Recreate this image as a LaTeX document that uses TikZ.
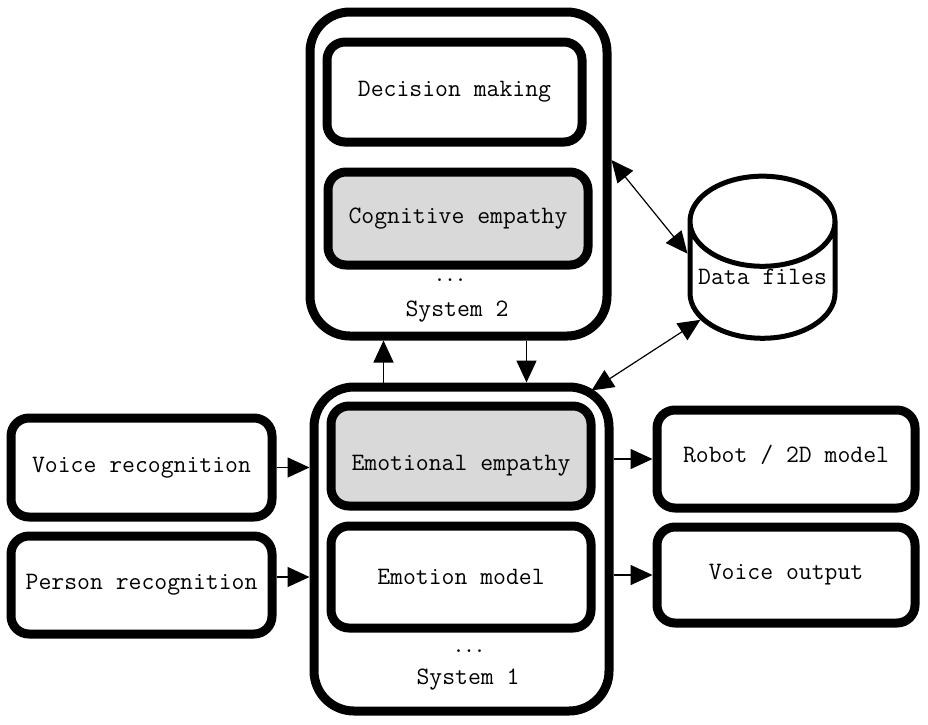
\documentclass[tikz,border=0pt]{standalone}
\usetikzlibrary{arrows.meta,shapes.geometric}
\begin{document}
\begin{tikzpicture}[x=1pt,y=1pt,
	box/.style={draw=black,line width=9pt,rounded corners=18pt,fill=white,inner sep=0pt,font=\ttfamily\fontsize{25}{30}\selectfont},
	shaded/.style={box,fill=black!15},
	sysbox/.style={draw=black,line width=9pt,rounded corners=40pt,inner sep=0pt},
	lbl/.style={inner sep=0pt,font=\ttfamily\fontsize{25}{30}\selectfont},
	dots/.style={inner sep=0pt,font=\ttfamily\bfseries\fontsize{20}{24}\selectfont},
	arr/.style={black,line width=1.5pt,-{Triangle[length=22pt,width=20pt]}},
	darr/.style={black,line width=1.2pt,{Triangle[length=22pt,width=20pt]}-{Triangle[length=22pt,width=20pt]}}]
			\useasboundingbox (0,0) rectangle (928,-724);
			\node [sysbox,minimum width=297pt,minimum height=324pt] (sysTwo) at (458.5,-174) {};
			\node [box,minimum width=255pt,minimum height=100pt] (decision) at (454.5,-92) {Decision making};
			\node [shaded,minimum width=260pt,minimum height=93pt] (cognitive) at (458,-218.5) {Cognitive empathy};
			\node [dots] (dotsTwo) at (450,-280) {...};
			\node [lbl] (labelTwo) at (457,-312) {System 2};
			\node [sysbox,minimum width=295pt,minimum height=324pt] (sysOne) at (461.5,-549) {};
			\node [shaded,minimum width=260pt,minimum height=100pt] (emoEmp) at (461,-456) {\raisebox{-14pt}[0pt][0pt]{Emotional empathy}};
			\node [box,minimum width=260pt,minimum height=102pt] (emoModel) at (461,-577) {Emotion model};
			\node [dots] (dotsOne) at (469,-651) {...};
			\node [lbl] (labelOne) at (468,-680) {System 1};
			\node [box,minimum width=261pt,minimum height=99pt] (voiceRec) at (141.5,-467.5) {Voice recognition};
			\node [box,minimum width=261pt,minimum height=98pt] (personRec) at (141.5,-585) {Person recognition};
			\node [box,minimum width=258pt,minimum height=98pt] (robot) at (786,-459) {\raisebox{-3pt}[0pt][0pt]{Robot / 2D model}};
			\node [box,minimum width=258pt,minimum height=96pt] (voiceOut) at (786,-575) {Voice output};
			\node [draw=black,line width=5pt,cylinder,shape border rotate=90,aspect=0.7,minimum width=145pt,minimum height=162pt,inner sep=0pt,font=\ttfamily\fontsize{25}{30}\selectfont] (data) at (762.5,-281) {\raisebox{9pt}{Data files}};
			\draw [arr] (voiceRec.east) -- (voiceRec.east -| sysOne.west);
			\draw [arr] (personRec.east |- emoModel) -- (sysOne.west |- emoModel);
			\draw [arr] (sysOne.east |- robot) -- (robot.west);
			\draw [arr] (sysOne.east |- voiceOut) -- (voiceOut.west);
			\draw [arr] ([xshift=-78pt]sysOne.north) -- ([xshift=-78pt]sysOne.north |- sysTwo.south);
			\draw [arr] ([xshift=68pt]sysTwo.south) -- ([xshift=68pt]sysTwo.south |- sysOne.north);
			\draw [darr] ([yshift=14pt]sysTwo.east) -- (data.160);
			\draw [darr] (data.212) -- ([xshift=-22pt,yshift=-8pt]sysOne.north east);
\end{tikzpicture}
\end{document}
